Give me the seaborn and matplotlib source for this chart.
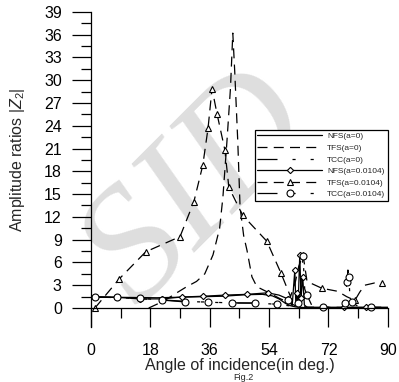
import matplotlib
matplotlib.use('Agg')
import matplotlib.pyplot as plt
from matplotlib.ticker import MultipleLocator
import seaborn as sns

#-------------------------------------------------------
# NFS(a=0)
nfs0_x=[0, 10, 20, 30, 40, 47, 52, 55, 57, 59, 60.5, 62, 63, 65, 70, 80, 90]
nfs0_y=[1.45, 1.4, 1.35, 1.45, 1.55, 1.75, 1.8, 1.6, 1.2, 0.6, 0.3, 0.15, 0.1, 0.05, 0.05, 0.05, 0.05]
# TFS(a=0)
tfs0_x=[17.5, 22, 26, 29, 32, 34.5, 37, 39, 40, 41.2, 42.3, 43, 43.6, 44.5, 45.2, 46.3, 47.3, 48.8, 50.3, 54, 57, 60, 62, 66, 90]
tfs0_y=[0, 0.9, 2.0, 2.8, 3.5, 4.5, 7.0, 10.5, 14.6, 21.8, 29.0, 36.2, 31.0, 22.0, 13.3, 9.5, 7.6, 4.1, 2.8, 2.0, 1.3, 0.7, 0.3, 0.1, 0.05]
# TCC(a=0)
tcc0_x=[0, 10, 20, 30, 40, 50, 56, 60, 62, 66, 75, 90]
tcc0_y=[1.45, 1.35, 1.1, 0.85, 0.7, 0.65, 0.5, 0.3, 0.1, 0.05, 0.05, 0.05]
# NFS(a=0.0104)
nfs1_x=[1.2, 8, 14.8, 21.5, 27.6, 34, 40.6, 47.3, 53.6, 57, 59.7, 61, 61.8, 62.1, 62.4, 62.8, 63.3, 63.7, 64.2, 64.7, 65.5, 70.3, 76.7, 83.3, 90]
nfs1_y=[1.45, 1.4, 1.2, 1.2, 1.45, 1.55, 1.7, 1.8, 2.0, 1.7, 1.2, 0.3, 5.0, 0.6, 2.0, 0.3, 7.0, 1.3, 4.1, 0.4, 0.1, 0.1, 0.1, 0.1, 0.1]
nfs1_mk=[0, 1, 2, 3, 4, 5, 6, 7, 8, 10, 12, 14, 16, 17, 18, 21, 22, 23]
# TFS(a=0.0104)
tfs1_x=[1.2, 8.5, 16.6, 27, 31.2, 33.9, 35.5, 36.7, 38.2, 40.6, 41.8, 46, 53.3, 57.6, 60.5, 62, 63, 64.3, 65.5, 70, 74.8, 77.5, 80, 81.5, 83, 86, 88.2]
tfs1_y=[0, 3.8, 7.4, 9.4, 14, 18.8, 23.7, 28.9, 25.6, 20.8, 15.9, 12.2, 8.8, 4.6, 1.5, 3.5, 5.5, 7.0, 3.5, 2.6, 2.2, 1.5, 1.0, 2.1, 3.0, 3.3, 3.3]
tfs1_mk=[0, 1, 2, 3, 4, 5, 6, 7, 8, 9, 10, 11, 12, 13, 17, 19, 22, 26]
# TCC(a=0.0104)
tcc1_x=[1.2, 8, 15, 21.5, 28.5, 35.5, 42.7, 49.7, 56.4, 59.7, 61.5, 62.7, 63.5, 64.3, 64.8, 65.5, 67, 70.3, 74, 77, 77.6, 77.9, 78.2, 78.5, 79, 81, 85, 88]
tcc1_y=[1.45, 1.4, 1.3, 1.05, 0.8, 0.8, 0.65, 0.65, 0.5, 1.05, 0.2, 0.65, 2.0, 6.8, 2.5, 1.7, 0.3, 0.1, 0.1, 0.65, 3.4, 5.0, 4.1, 1.5, 0.8, 0.2, 0.1, 0.1]
tcc1_mk=[0, 1, 2, 3, 4, 5, 6, 7, 8, 9, 11, 13, 15, 17, 19, 20, 22, 24, 26]

x_label='Angle of incidence(in deg.)'
y_label='Amplitude ratios |$Z_2$|'

#-------------------------------------------------------
sns.set_style('ticks')
plt.rcParams['font.family']=['Liberation Sans', 'DejaVu Sans']
plt.rcParams['mathtext.fontset']='custom'
plt.rcParams['mathtext.rm']='Liberation Sans'
plt.rcParams['mathtext.it']='Liberation Sans:italic'

fig=plt.figure(figsize=(3.99, 3.82), dpi=100)
ax=fig.add_axes([0.228, 0.144, 0.744, 0.825])

#watermark
fig.text(0.5, 0.5, 'SID', rotation=45, fontsize=118,
	color='#dedede', family='Liberation Serif', style='italic',
	ha='center', va='center', zorder=-1)
ax.patch.set_alpha(0)

lw=0.9
dash=(0, (8, 5))
dashdot=(0, (16, 12, 2.5, 12, 2.5, 12))
mk=dict(mfc='white', mec='black', mew=0.8)

sns.lineplot(x=nfs0_x, y=nfs0_y, ax=ax, color='black', lw=lw, estimator=None, label='NFS(a=0)')
sns.lineplot(x=tfs0_x, y=tfs0_y, ax=ax, color='black', lw=lw, ls=dash, estimator=None, label='TFS(a=0)')
sns.lineplot(x=tcc0_x, y=tcc0_y, ax=ax, color='black', lw=lw, ls=dashdot, estimator=None, label='TCC(a=0)')
sns.lineplot(x=nfs1_x, y=nfs1_y, ax=ax, color='black', lw=lw, estimator=None,
	marker='D', ms=3.2, markevery=nfs1_mk, label='NFS(a=0.0104)', **mk)
sns.lineplot(x=tfs1_x, y=tfs1_y, ax=ax, color='black', lw=lw, ls=dash, estimator=None,
	marker='^', ms=4.5, markevery=tfs1_mk, label='TFS(a=0.0104)', **mk)
sns.lineplot(x=tcc1_x, y=tcc1_y, ax=ax, color='black', lw=lw, ls=dashdot, estimator=None,
	marker='o', ms=5, markevery=tcc1_mk, label='TCC(a=0.0104)', **mk)

#axes
ax.set_xlim(0, 90)
ax.set_ylim(-2.5, 39)
ax.spines['top'].set_visible(False)
ax.spines['right'].set_visible(False)
ax.spines['bottom'].set_position(('data', 0))
ax.spines['left'].set_bounds(-2.5, 39)
for s in ['left', 'bottom']:
	ax.spines[s].set_linewidth(0.9)
	ax.spines[s].set_color('black')

ax.xaxis.set_major_locator(MultipleLocator(18))
ax.xaxis.set_minor_locator(MultipleLocator(9))
ax.set_yticks(list(range(0, 40, 3)))
ax.set_yticks([1.5+3*i for i in range(13)], minor=True)
ax.tick_params(axis='both', which='major', direction='out', length=14, width=0.9, color='black', labelsize=11.5, labelcolor='black')
ax.tick_params(axis='both', which='minor', direction='out', length=7, width=0.9, color='black')
ax.tick_params(axis='x', which='major', pad=11)
ax.tick_params(axis='y', which='major', pad=7)

ax.set_xlabel(x_label, fontsize=11.5)
ax.set_ylabel(y_label, fontsize=11.5)
ax.xaxis.set_label_coords(0.5, -0.098)
ax.yaxis.set_label_coords(-0.215, 0.53)

fig.text(0.61, 0.0, 'Fig.2', fontsize=6.5, ha='center', va='bottom')

#legend
leg=ax.legend(loc='upper right', bbox_to_anchor=(1.0, 0.625), fontsize=6, frameon=True,
	fancybox=False, edgecolor='black', framealpha=1, handlelength=7.8, handletextpad=0.6,
	labelspacing=0.45, borderpad=0.3, borderaxespad=0, numpoints=1)
leg.get_frame().set_linewidth(0.9)

plt.savefig('out.png', dpi=100)
plt.close()
